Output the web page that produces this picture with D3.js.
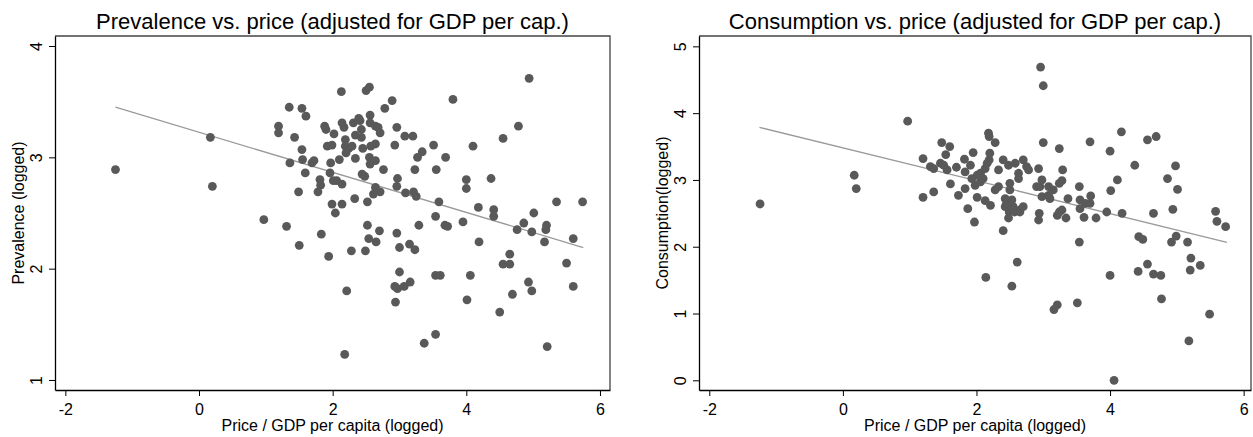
<!DOCTYPE html>
<html>
<head>
<meta charset="utf-8">
<script src="https://cdn.jsdelivr.net/npm/d3@7"></script>
<style>
  body { margin: 0; background: #fff; }
  svg { display: block; font-family: "Liberation Sans", Arial, sans-serif; }
</style>
</head>
<body>
<svg id="chart" width="1253" height="437"></svg>
<script>
// left panel: prevalence vs price (logged)
var prevPrice = [-1.25, 0.17, 0.20, 0.97, 1.19, 1.19, 1.31, 1.35, 1.36, 1.43, 1.49, 1.50, 1.54, 1.54, 1.55, 1.59, 1.60,
  1.69, 1.72, 1.78, 1.81, 1.82, 1.83, 1.88, 1.90, 1.92, 1.94, 1.96, 1.97, 1.99, 1.99, 2.01, 2.02, 2.04, 2.06, 2.10,
  2.13, 2.14, 2.14, 2.14, 2.17, 2.18, 2.19, 2.19, 2.20, 2.21, 2.24, 2.28, 2.29, 2.31, 2.33, 2.34, 2.34, 2.39, 2.41,
  2.43, 2.43, 2.44, 2.45, 2.48, 2.49, 2.50, 2.52, 2.52, 2.54, 2.55, 2.55, 2.56, 2.56, 2.56, 2.57, 2.61, 2.64, 2.64,
  2.64, 2.64, 2.65, 2.68, 2.70, 2.71, 2.71, 2.76, 2.78, 2.89, 2.93, 2.93, 2.94, 2.96, 2.96, 2.96, 2.97, 2.97, 3.00,
  3.00, 3.07, 3.08, 3.09, 3.15, 3.16, 3.20, 3.21, 3.23, 3.23, 3.25, 3.27, 3.29, 3.34, 3.37, 3.51, 3.54, 3.54, 3.54,
  3.55, 3.61, 3.59, 3.68, 3.69, 3.72, 3.80, 3.95, 4.00, 4.00, 4.01, 4.06, 4.10, 4.18, 4.19, 4.37, 4.41, 4.41, 4.50,
  4.55, 4.55, 4.65, 4.65, 4.69, 4.76, 4.78, 4.86, 4.93, 4.94, 4.98, 4.98, 5.01, 5.17, 5.19, 5.20, 5.21, 5.35, 5.50,
  5.60, 5.60, 5.74];
var prevValue = [2.89, 3.18, 2.74, 2.44, 3.28, 3.22, 2.38, 3.45, 2.95, 3.18, 2.69, 2.21, 3.44, 3.07, 2.98, 2.86, 3.37,
  2.95, 2.97, 2.69, 2.80, 2.75, 2.31, 3.28, 3.25, 3.10, 2.11, 2.86, 2.95, 3.11, 2.58, 2.79, 3.21, 2.50, 2.79, 2.98,
  3.59, 3.31, 2.76, 2.58, 3.27, 1.23, 3.16, 3.10, 3.04, 1.80, 3.08, 2.16, 3.10, 3.31, 2.63, 3.20, 2.99, 3.35, 3.33,
  3.18, 3.25, 2.85, 3.08, 2.83, 2.16, 3.60, 2.60, 2.39, 2.27, 3.63, 3.00, 3.38, 3.31, 2.94, 3.10, 2.67, 3.28, 3.12,
  2.97, 2.73, 2.24, 3.27, 2.34, 3.22, 2.69, 2.89, 3.44, 3.51, 3.11, 1.84, 1.70, 3.27, 2.74, 2.32, 2.81, 1.82, 2.19,
  1.97, 1.84, 3.19, 2.68, 2.22, 1.88, 3.19, 2.69, 2.89, 2.17, 2.65, 3.00, 2.39, 3.05, 1.33, 3.11, 2.47, 1.41, 1.94,
  2.89, 1.94, 2.60, 2.39, 3.00, 2.38, 3.52, 2.42, 2.80, 2.72, 1.72, 1.94, 3.10, 2.55, 2.24, 2.81, 2.53, 2.47, 1.61,
  3.17, 2.04, 2.04, 2.13, 1.77, 2.35, 3.28, 2.41, 1.88, 3.71, 2.33, 1.80, 2.50, 2.24, 2.35, 2.39, 1.30, 2.60, 2.05,
  2.27, 1.84, 2.60];

// right panel: consumption vs price (logged)
var consPrice = [-1.24, 0.17, 0.20, 0.97, 1.20, 1.20, 1.31, 1.36, 1.36, 1.46, 1.48, 1.51, 1.54, 1.56, 1.60, 1.61, 1.70,
  1.73, 1.82, 1.83, 1.83, 1.87, 1.91, 1.93, 1.95, 1.97, 1.98, 2.01, 2.01, 2.06, 2.06, 2.10, 2.13, 2.13, 2.14, 2.16,
  2.18, 2.19, 2.19, 2.20, 2.21, 2.28, 2.28, 2.33, 2.33, 2.40, 2.40, 2.43, 2.43, 2.45, 2.48, 2.48, 2.49, 2.50, 2.50,
  2.53, 2.53, 2.55, 2.55, 2.57, 2.58, 2.61, 2.63, 2.63, 2.65, 2.65, 2.70, 2.70, 2.75, 2.78, 2.90, 2.93, 2.93, 2.94,
  2.95, 2.96, 2.98, 2.98, 3.00, 3.00, 3.08, 3.08, 3.10, 3.15, 3.16, 3.21, 3.21, 3.24, 3.24, 3.24, 3.28, 3.28, 3.29,
  3.34, 3.37, 3.51, 3.54, 3.54, 3.55, 3.55, 3.61, 3.63, 3.70, 3.70, 3.71, 3.79, 3.95, 4.00, 4.00, 4.01, 4.06, 4.11,
  4.17, 4.18, 4.37, 4.42, 4.43, 4.49, 4.56, 4.56, 4.65, 4.65, 4.69, 4.76, 4.77, 4.86, 4.92, 4.94, 4.98, 4.99, 5.01,
  5.16, 5.18, 5.20, 5.21, 5.35, 5.49, 5.58, 5.60, 5.73];
var consValue = [2.64, 3.07, 2.87, 3.88, 3.32, 2.74, 3.20, 3.17, 2.82, 3.25, 3.56, 3.22, 3.38, 3.15, 3.50, 2.94, 3.19,
  2.77, 3.31, 3.12, 2.87, 2.57, 3.22, 3.02, 3.41, 2.37, 2.92, 3.07, 2.74, 3.10, 2.97, 3.02, 3.17, 2.69, 1.54, 3.25,
  3.70, 3.65, 3.30, 3.40, 2.62, 3.56, 2.85, 3.15, 2.90, 3.30, 2.24, 2.72, 2.60, 2.65, 3.22, 2.43, 2.52, 2.95, 2.85,
  2.70, 1.41, 2.60, 2.55, 2.52, 3.25, 1.77, 3.10, 3.02, 2.55, 2.52, 3.30, 2.60, 3.20, 3.15, 2.90, 3.17, 2.40, 2.50,
  2.90, 4.69, 3.00, 2.75, 4.41, 3.56, 2.90, 2.77, 2.72, 2.85, 1.06, 1.13, 2.47, 3.47, 2.95, 2.52, 2.99, 2.55, 3.15,
  2.43, 2.72, 1.16, 2.90, 2.07, 2.70, 2.57, 2.44, 2.65, 3.57, 2.65, 2.76, 2.43, 2.52, 3.43, 1.57, 2.84, 0.00, 3.00,
  3.72, 2.50, 3.22, 1.63, 2.15, 2.11, 3.60, 1.74, 2.50, 1.59, 3.65, 1.57, 1.22, 3.02, 2.07, 2.56, 3.21, 2.16, 2.86,
  2.07, 0.59, 1.65, 1.83, 1.72, 0.99, 2.53, 2.38, 2.30];

var xTicks = [-2, 0, 2, 4, 6];
var prevTicks = [1, 2, 3, 4];
var consTicks = [0, 1, 2, 3, 4, 5];
// fitted lines: [intercept, slope], drawn over this x range
var prevFit = [3.225, -0.18];
var consFit = [3.48, -0.246];
var fitRange = [-1.25, 5.75];

var svg = d3.select('#chart');

function panel(opt) {
  var x = d3.scaleLinear().domain(opt.xDomain).range([opt.left, opt.right]);
  var y = d3.scaleLinear().domain(opt.yDomain).range([390, 36]);
  var g = svg.append('g');

  // frame (top and right borders)
  g.append('path')
    .attr('d', 'M' + opt.left + ',36H' + opt.right + 'V390')
    .attr('fill', 'none')
    .attr('stroke', '#444')
    .attr('stroke-width', 1.3);

  var xa = g.append('g')
    .attr('transform', 'translate(0,390)')
    .call(d3.axisBottom(x).tickValues(xTicks).tickSize(6).tickSizeOuter(0).tickFormat(d3.format('d')));
  xa.selectAll('text')
    .attr('y', 14)
    .attr('dy', '0.71em')
    .attr('fill', '#000')
    .style('font-size', '16px')
    .style('font-family', '"Liberation Sans", Arial, sans-serif')
    .text(function (d) { return d < 0 ? '-' + Math.abs(d) : d; });

  var ya = g.append('g')
    .attr('transform', 'translate(' + opt.left + ',0)')
    .call(d3.axisLeft(y).tickValues(opt.yTicks).tickSize(6).tickSizeOuter(0).tickFormat(d3.format('d')));
  ya.selectAll('text')
    .attr('transform', 'rotate(-90)')
    .attr('x', 0)
    .attr('y', -13)
    .attr('dy', 0)
    .attr('text-anchor', 'middle')
    .attr('fill', '#000')
    .style('font-size', '16px')
    .style('font-family', '"Liberation Sans", Arial, sans-serif');

  [xa, ya].forEach(function (a) {
    a.select('.domain').attr('stroke', '#000').attr('stroke-width', 1.3);
    a.selectAll('.tick line').attr('stroke', '#000').attr('stroke-width', 1);
  });

  // fitted line
  g.append('line')
    .attr('x1', x(fitRange[0]))
    .attr('y1', y(opt.fit[0] + opt.fit[1] * fitRange[0]))
    .attr('x2', x(fitRange[1]))
    .attr('y2', y(opt.fit[0] + opt.fit[1] * fitRange[1]))
    .attr('stroke', '#9a9a9a')
    .attr('stroke-width', 1.3);

  g.selectAll('circle.pt')
    .data(d3.zip(opt.xs, opt.ys))
    .enter()
    .append('circle')
    .attr('class', 'pt')
    .attr('cx', function (d) { return x(d[0]); })
    .attr('cy', function (d) { return y(d[1]); })
    .attr('r', 4.4)
    .attr('fill', '#595959');

  var cx = (opt.left + opt.right) / 2;
  g.append('text')
    .attr('x', cx)
    .attr('y', 29)
    .attr('text-anchor', 'middle')
    .style('font-size', '22px')
    .text(opt.title);

  g.append('text')
    .attr('x', cx)
    .attr('y', 431)
    .attr('text-anchor', 'middle')
    .style('font-size', '16px')
    .text('Price / GDP per capita (logged)');

  g.append('text')
    .attr('transform', 'translate(' + (opt.left - 31) + ',213) rotate(-90)')
    .attr('text-anchor', 'middle')
    .style('font-size', '16px')
    .text(opt.yLabel);
}

panel({
  left: 55, right: 610,
  xDomain: [-2.155, 6.15], yDomain: [0.91, 4.09],
  yTicks: prevTicks, xs: prevPrice, ys: prevValue, fit: prevFit,
  title: 'Prevalence vs. price (adjusted for GDP per cap.)',
  yLabel: 'Prevalence (logged)'
});

panel({
  left: 699, right: 1251,
  xDomain: [-2.154, 6.11], yDomain: [-0.145, 5.155],
  yTicks: consTicks, xs: consPrice, ys: consValue, fit: consFit,
  title: 'Consumption vs. price (adjusted for GDP per cap.)',
  yLabel: 'Consumption(logged)'
});
</script>
</body>
</html>
